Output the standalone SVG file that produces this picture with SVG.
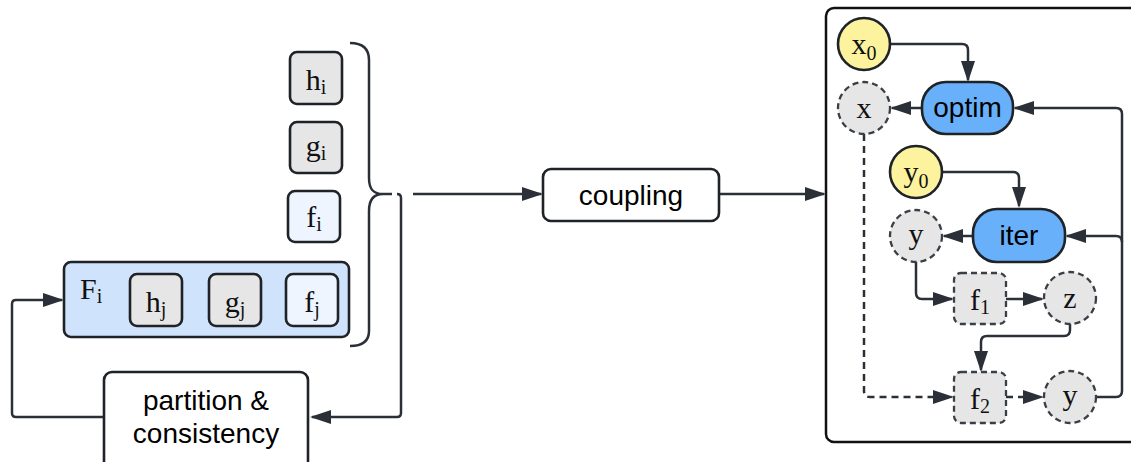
<svg xmlns="http://www.w3.org/2000/svg" width="1131" height="462" viewBox="0 0 1131 462">
<style>
.ln{fill:none;stroke:#2b3038;stroke-width:2.5;}
.dash{stroke-dasharray:7 5;}
.box{stroke:#1f2328;stroke-width:2.6;}
.gray{fill:#e6e6e6;}
.lb{fill:#eef5fe;}
.yel{fill:#fdf39f;}
.blue{fill:#69b0fb;}
.dnode{fill:#e6e6e6;stroke:#3a3f45;stroke-width:2.3;stroke-dasharray:6 4;}
.sans{font-family:"Liberation Sans",Arial,sans-serif;font-size:28px;fill:#000;text-anchor:middle;}
.m{font-family:"Liberation Serif","Times New Roman",serif;font-size:30px;fill:#111;text-anchor:middle;}
.s{font-size:20px;}
</style>
<defs>
<marker id="ah" markerUnits="userSpaceOnUse" markerWidth="24" markerHeight="16" refX="19" refY="7" orient="auto">
<path d="M0,0 L21,7 L0,14 z" fill="#2b3038"/>
</marker>
</defs>

<g id="container"><rect x="826" y="8" width="330" height="434" rx="8" fill="#fff" stroke="#111" stroke-width="2.5"/></g>

<g id="connectors">
<path class="ln" d="M350,43 C362,43 369,48 369,60 V178 C369,190 374,194 383,194 C374,194 369,199 369,211 V331 C369,342 362,346 350,346"/>
<path class="ln" d="M383,194 H392"/>
<path class="ln" d="M397,194 Q401,194 401,198 V413 Q401,417 397,417 H312" marker-end="url(#ah)"/>
<path class="ln" d="M104,417 H16 Q12,417 12,413 V304 Q12,300 16,300 H62" marker-end="url(#ah)"/>
<path class="ln" d="M413,194 H541" marker-end="url(#ah)"/>
<path class="ln" d="M719,194 H824" marker-end="url(#ah)"/>
<path class="ln" d="M890,44 H962 Q968,44 968,50 V80" marker-end="url(#ah)"/>
<path class="ln" d="M922,108 H892" marker-end="url(#ah)"/>
<path class="ln" d="M1096,397 H1116 Q1122,397 1122,391 V114 Q1122,108 1116,108 H1015" marker-end="url(#ah)"/>
<path class="ln" d="M1122,242 Q1122,236 1116,236 H1067" marker-end="url(#ah)"/>
<path class="ln" d="M942,172 H1013 Q1019,172 1019,178 V206" marker-end="url(#ah)"/>
<path class="ln" d="M973,236 H944" marker-end="url(#ah)"/>
<path class="ln" d="M916,262 V293 Q916,299 922,299 H952" marker-end="url(#ah)"/>
<path class="ln" d="M1006,299 H1042" marker-end="url(#ah)"/>
<path class="ln" d="M1070,324 V330 Q1070,336 1064,336 H987 Q981,336 981,342 V370" marker-end="url(#ah)"/>
<path class="ln dash" d="M864,134 V391 Q864,397 870,397 H952" marker-end="url(#ah)"/>
<path class="ln dash" d="M1006,397 H1042" marker-end="url(#ah)"/>
</g>

<g id="h_i"><rect class="box gray" x="290" y="52" width="52" height="52" rx="7"/><text class="m" x="316" y="90">h<tspan class="s" dy="4">i</tspan></text></g>
<g id="g_i"><rect class="box gray" x="290" y="122" width="52" height="51" rx="7"/><text class="m" x="316" y="156">g<tspan class="s" dy="4">i</tspan></text></g>
<g id="f_i"><rect class="box lb" x="288" y="191" width="52" height="51" rx="7"/><text class="m" x="314" y="227">f<tspan class="s" dy="4">i</tspan></text></g>

<g id="F_i">
<rect class="box" x="64" y="262" width="285" height="75" rx="7" fill="#cfe3fc"/>
<text class="m" x="80" y="299" style="text-anchor:start">F<tspan class="s" dy="4">i</tspan></text>
<g id="h_j"><rect class="box gray" x="130" y="274" width="52" height="52" rx="7"/><text class="m" x="156" y="312">h<tspan class="s" dy="4">j</tspan></text></g>
<g id="g_j"><rect class="box gray" x="209" y="274" width="52" height="52" rx="7"/><text class="m" x="235" y="312">g<tspan class="s" dy="4">j</tspan></text></g>
<g id="f_j"><rect class="box lb" x="286" y="274" width="52" height="52" rx="7"/><text class="m" x="312" y="312">f<tspan class="s" dy="4">j</tspan></text></g>
</g>

<g id="partition"><rect class="box" x="104" y="372" width="204" height="100" rx="8" fill="#fff"/><text class="sans" x="206" y="410">partition &amp;</text><text class="sans" x="206" y="443">consistency</text></g>

<g id="coupling"><rect class="box" x="543" y="169" width="176" height="52" rx="8" fill="#fff"/><text class="sans" x="631" y="205">coupling</text></g>

<g id="x0"><circle class="box yel" cx="864" cy="44" r="26"/><text class="m" x="864" y="54">x<tspan class="s" dy="6">0</tspan></text></g>
<g id="x"><circle class="dnode" cx="864" cy="108" r="26"/><text class="m" x="864" y="118">x</text></g>
<g id="optim"><rect class="box blue" x="922" y="82" width="91" height="52" rx="24"/><text class="sans" x="967.5" y="117">optim</text></g>
<g id="y0"><circle class="box yel" cx="916" cy="172" r="26"/><text class="m" x="916" y="182">y<tspan class="s" dy="6">0</tspan></text></g>
<g id="iter"><rect class="box blue" x="973" y="209" width="92" height="53" rx="24"/><text class="sans" x="1019" y="245">iter</text></g>
<g id="y_upper"><circle class="dnode" cx="916" cy="236" r="26"/><text class="m" x="916" y="244">y</text></g>
<g id="f1"><rect class="dnode" x="954" y="273" width="52" height="51" rx="7"/><text class="m" x="980" y="310">f<tspan class="s" dy="4">1</tspan></text></g>
<g id="z"><circle class="dnode" cx="1070" cy="298" r="26"/><text class="m" x="1070" y="308">z</text></g>
<g id="f2"><rect class="dnode" x="954" y="372" width="52" height="51" rx="7"/><text class="m" x="980" y="409">f<tspan class="s" dy="4">2</tspan></text></g>
<g id="y_lower"><circle class="dnode" cx="1070" cy="397" r="26"/><text class="m" x="1070" y="405">y</text></g>
</svg>
